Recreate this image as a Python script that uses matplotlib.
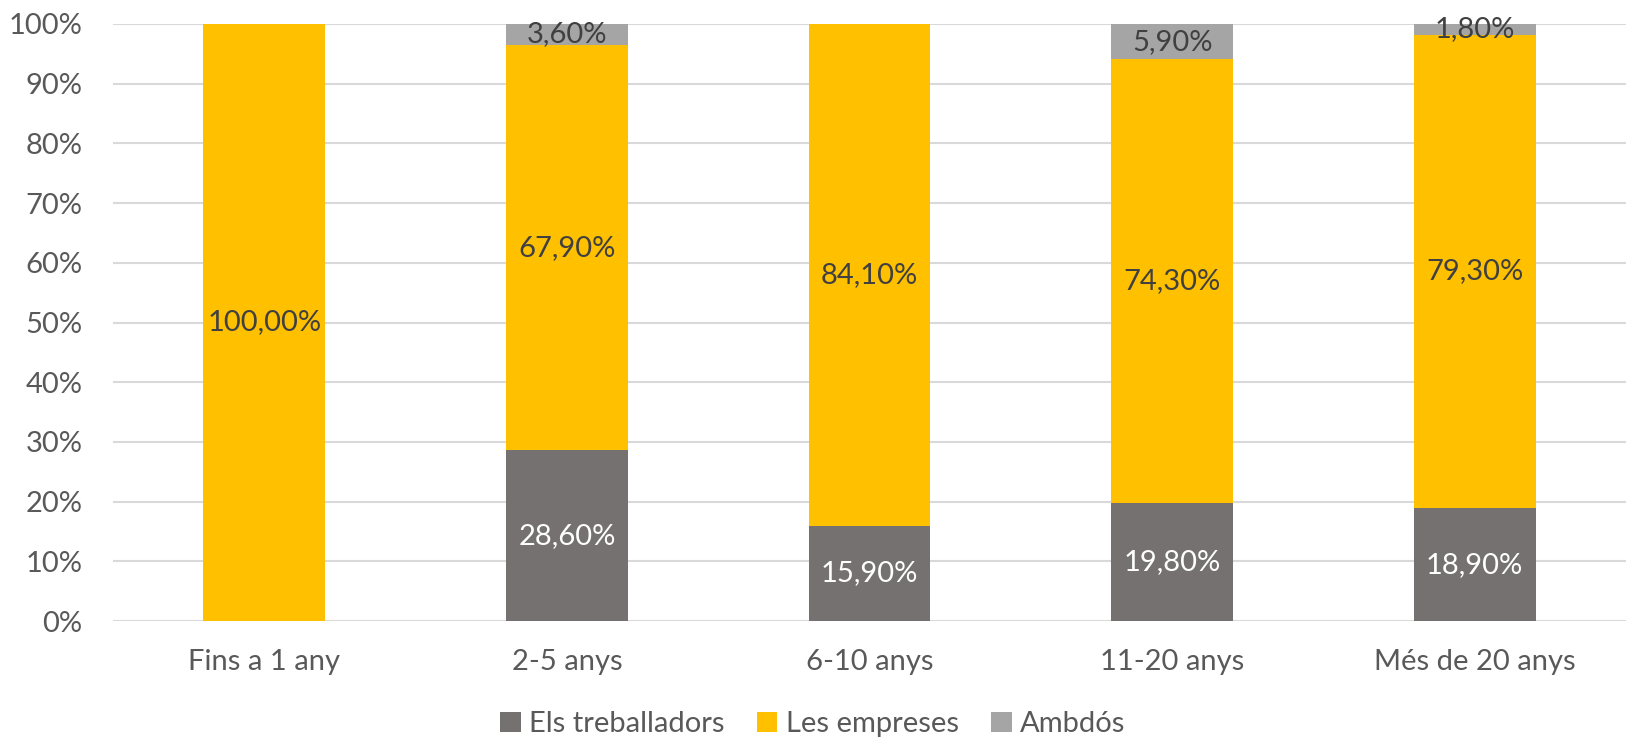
import matplotlib
matplotlib.use("Agg")
import matplotlib.pyplot as plt
import numpy as np

plt.rcParams['font.family'] = ['Lato', 'DejaVu Sans']

categories = ["Fins a 1 any", "2-5 anys", "6-10 anys", "11-20 anys", "Més de 20 anys"]
treballadors = [0.0, 28.6, 15.9, 19.8, 18.9]
empreses = [100.0, 67.9, 84.1, 74.3, 79.3]
ambdos = [0.0, 3.6, 0.0, 5.9, 1.8]

series_names = ["Els treballadors", "Les empreses", "Ambdós"]
colors = ["#767171", "#FFC000", "#A5A5A5"]
label_colors = ["white", "#404040", "#404040"]

fig = plt.figure(figsize=(16.26, 7.38), dpi=100)
ax = fig.add_axes([113 / 1626, 1 - 621 / 738, (1626 - 113) / 1626, (621 - 24) / 738])

x = np.arange(len(categories))
width = 0.403
bottom = np.zeros(len(categories))
handles = []
for vals, name, col, lcol in zip([treballadors, empreses, ambdos], series_names, colors, label_colors):
    vals = np.array(vals)
    top = np.minimum(bottom + vals, 100.0)
    h = ax.bar(x, top - bottom, width, bottom=bottom, color=col, label=name, zorder=2)
    handles.append(h)
    for xi, b, v, t in zip(x, bottom, vals, top):
        if v > 0:
            ax.text(xi, (b + t) / 2, f"{v:.2f}%".replace(".", ","), ha="center", va="center",
                    fontsize=21, color=lcol, zorder=3)
    bottom = bottom + vals

ax.set_xlim(-0.5, len(categories) - 0.5)
ax.set_ylim(0, 100)
ax.set_yticks(np.arange(0, 101, 10))
ax.set_yticklabels([f"{v}%" for v in range(0, 101, 10)])
ax.set_xticks(x)
ax.set_xticklabels(categories)
ax.tick_params(axis="both", length=0, labelsize=21, labelcolor="#595959")
ax.tick_params(axis="y", pad=22)
ax.tick_params(axis="x", pad=20)
ax.yaxis.grid(True, color="#D9D9D9", linewidth=1.5, zorder=0)
ax.set_axisbelow(True)
for s in ax.spines.values():
    s.set_visible(False)

leg = fig.legend(handles=handles, labels=series_names, loc="center", bbox_to_anchor=(0.5, 1 - 724 / 738),
                 ncol=3, frameon=False, fontsize=21, handlelength=0.7, handleheight=0.7,
                 handletextpad=0.3, columnspacing=1.1, labelcolor="#595959")

fig.savefig("out.png", dpi=100)
